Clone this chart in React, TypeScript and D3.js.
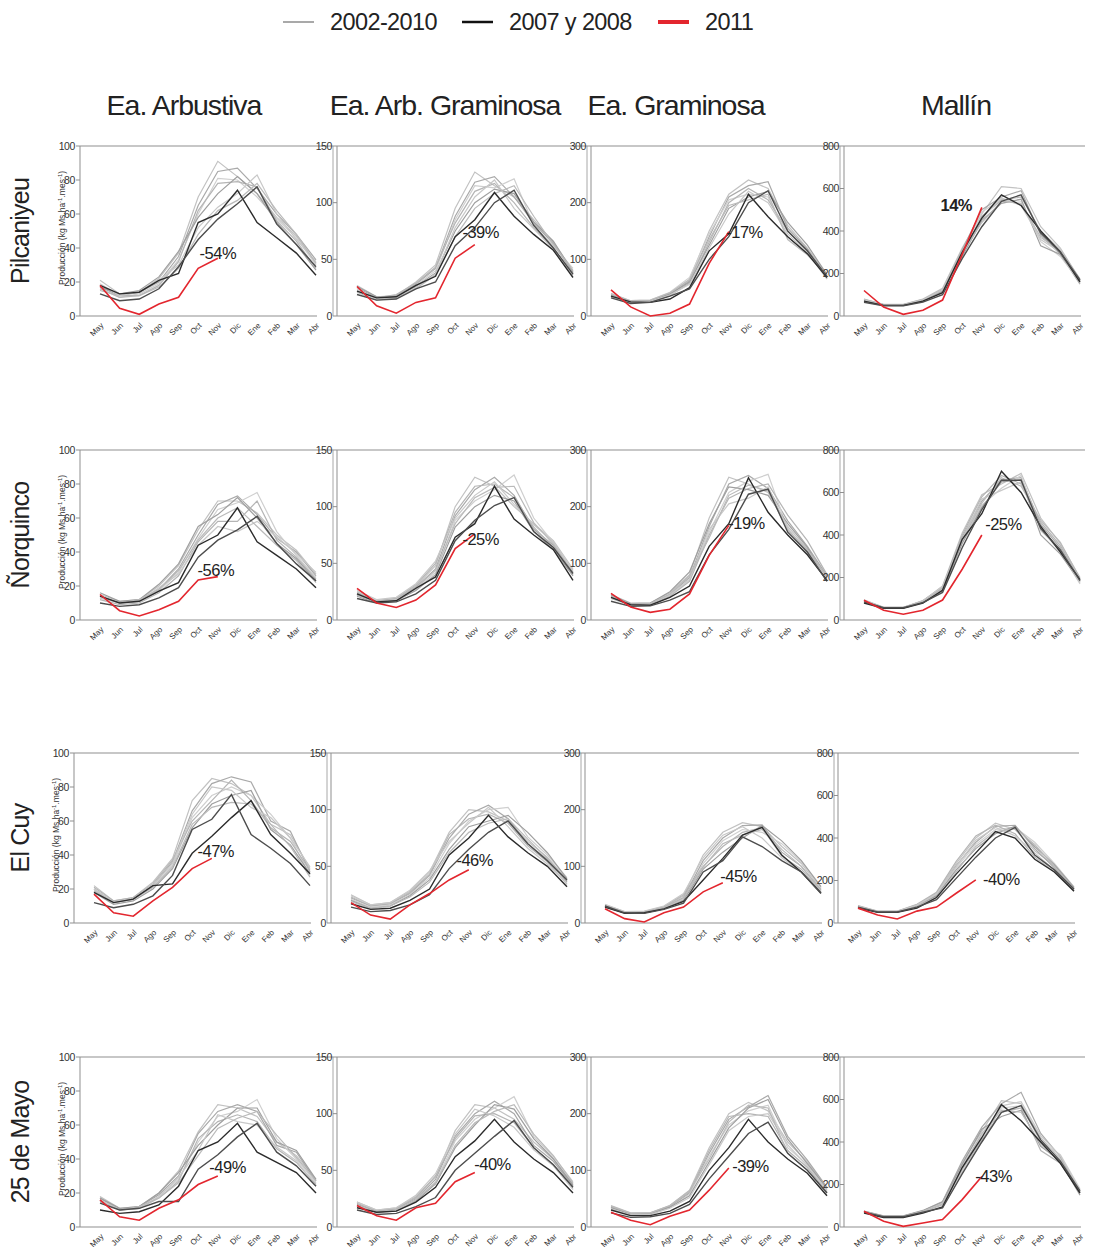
import * as d3 from "d3";

const months = ["May", "Jun", "Jul", "Ago", "Sep", "Oct", "Nov", "Dic", "Ene", "Feb", "Mar", "Abr"];
const sites = ["Pilcaniyeu", "Ñorquinco", "El Cuy", "25 de Mayo"];
const vegTypes = ["Ea. Arbustiva", "Ea. Arb. Graminosa", "Ea. Graminosa", "Mallín"];
const yMax = [100, 150, 300, 800];
const yStep = [20, 50, 100, 200];
const legendLabels = ["2002-2010", "2007 y 2008", "2011"];

// Pilcaniyeu
const pilArbGray = [
  [21, 13, 14, 22, 37, 70, 91, 82, 72, 58, 47, 31],
  [17, 12, 14, 20, 35, 65, 85, 87, 75, 60, 48, 33],
  [16, 11, 13, 19, 33, 60, 81, 80, 70, 57, 46, 30],
  [15, 12, 12, 18, 32, 62, 78, 79, 76, 56, 44, 28],
  [17, 13, 15, 23, 38, 58, 72, 82, 72, 55, 42, 27],
  [19, 12, 14, 21, 30, 52, 64, 72, 83, 60, 45, 32],
  [16, 11, 12, 17, 28, 48, 62, 68, 78, 62, 48, 31],
];
const pilArbDark = [
  [18, 13, 14, 21, 25, 55, 60, 74, 55, 46, 37, 24],
  [13, 9, 10, 16, 29, 45, 57, 66, 76, 54, 42, 29],
];
const pilArbRed = [18, 4.5, 1, 7, 11, 28, 34];

const pilArbGrGray = [
  [27, 17, 18, 30, 45, 95, 127, 115, 105, 85, 65, 40],
  [25, 16, 18, 28, 42, 88, 118, 123, 105, 82, 64, 38],
  [24, 15, 17, 27, 40, 85, 115, 113, 121, 80, 62, 42],
  [22, 16, 19, 29, 43, 82, 110, 117, 100, 78, 60, 36],
  [26, 17, 17, 26, 38, 75, 100, 112, 108, 83, 66, 39],
  [23, 15, 16, 25, 37, 78, 105, 120, 95, 77, 59, 37],
  [21, 14, 16, 24, 36, 70, 95, 108, 115, 88, 63, 40],
];
const pilArbGrDark = [
  [22, 16, 17, 27, 35, 70, 85, 109, 88, 72, 58, 34],
  [19, 14, 15, 24, 30, 62, 78, 100, 111, 80, 60, 37],
];
const pilArbGrRed = [26, 9, 2.5, 12, 16, 51, 63];

const pilGramGray = [
  [38, 26, 27, 40, 65, 150, 215, 240, 225, 160, 120, 72],
  [36, 25, 26, 38, 62, 140, 210, 230, 237, 155, 118, 66],
  [40, 27, 28, 42, 68, 145, 205, 215, 210, 140, 110, 70],
  [34, 24, 25, 36, 58, 130, 200, 225, 205, 150, 115, 68],
  [37, 26, 27, 39, 60, 125, 190, 210, 220, 165, 125, 73],
  [35, 25, 26, 37, 56, 120, 180, 220, 200, 145, 112, 65],
  [39, 27, 28, 41, 64, 135, 195, 205, 215, 135, 108, 71],
];
const pilGramDark = [
  [35, 25, 24, 30, 50, 115, 145, 215, 175, 140, 110, 68],
  [32, 22, 24, 35, 48, 100, 140, 200, 221, 150, 115, 70],
];
const pilGramRed = [46, 16, 0, 5, 21, 93, 149];

const pilMalGray = [
  [80, 55, 55, 80, 130, 320, 480, 609, 600, 420, 320, 170],
  [75, 52, 52, 75, 120, 310, 500, 560, 590, 380, 290, 150],
  [70, 50, 50, 70, 115, 300, 490, 550, 540, 350, 280, 160],
  [78, 54, 54, 78, 125, 290, 470, 545, 560, 400, 310, 175],
  [72, 51, 51, 72, 118, 280, 450, 530, 550, 330, 290, 165],
  [76, 53, 53, 76, 122, 305, 460, 555, 520, 360, 300, 155],
  [68, 49, 49, 68, 112, 295, 440, 540, 530, 370, 305, 168],
];
const pilMalDark = [
  [70, 50, 50, 70, 110, 300, 460, 570, 520, 400, 300, 160],
  [65, 48, 48, 65, 100, 270, 420, 540, 570, 390, 300, 170],
];
const pilMalRed = [120, 42, 8, 27, 75, 290, 511];

// Ñorquinco
const norArbGray = [
  [15, 11, 12, 20, 32, 53, 70, 70, 63, 50, 41, 27],
  [14, 10, 11, 18, 30, 50, 68, 73, 62, 48, 40, 26],
  [13, 10, 11, 17, 28, 48, 65, 69, 75, 52, 38, 25],
  [12, 9, 10, 16, 26, 46, 58, 58, 70, 47, 37, 24],
  [16, 11, 12, 21, 33, 55, 62, 72, 60, 45, 36, 23],
  [13, 10, 11, 19, 27, 44, 55, 52, 58, 49, 39, 28],
  [14, 10, 12, 18, 29, 47, 60, 66, 55, 44, 35, 22],
];
const norArbDark = [
  [14, 10, 11, 17, 22, 44, 50, 66, 46, 38, 30, 19],
  [10, 8, 9, 13, 19, 37, 47, 53, 61, 45, 33, 23],
];
const norArbRed = [15, 5.5, 2.4, 6, 11, 23.5, 25.5];

const norArbGrGray = [
  [25, 17, 19, 30, 48, 100, 126, 118, 100, 85, 70, 45],
  [24, 16, 18, 29, 45, 92, 115, 126, 110, 80, 66, 42],
  [22, 16, 18, 27, 42, 88, 105, 115, 128, 90, 68, 44],
  [23, 17, 19, 31, 50, 95, 118, 120, 108, 82, 64, 40],
  [21, 15, 17, 26, 40, 82, 100, 110, 105, 78, 62, 39],
  [26, 18, 20, 32, 52, 90, 110, 122, 102, 84, 69, 43],
  [22, 16, 17, 28, 44, 85, 108, 117, 118, 86, 67, 41],
];
const norArbGrDark = [
  [23, 16, 17, 28, 38, 73, 85, 118, 89, 75, 62, 35],
  [19, 15, 16, 23, 35, 70, 88, 101, 108, 78, 64, 41],
];
const norArbGrRed = [28, 15, 11, 17.6, 31, 63, 76];

const norGramGray = [
  [45, 30, 30, 48, 80, 180, 252, 240, 225, 165, 125, 75],
  [42, 28, 29, 45, 75, 165, 240, 255, 232, 175, 130, 78],
  [40, 27, 28, 43, 70, 155, 225, 245, 257, 160, 122, 72],
  [38, 26, 27, 42, 68, 150, 215, 232, 240, 185, 140, 80],
  [44, 29, 30, 50, 85, 170, 235, 230, 220, 170, 128, 70],
  [39, 27, 28, 44, 72, 160, 205, 215, 235, 162, 118, 74],
  [41, 28, 29, 46, 78, 145, 220, 238, 228, 158, 124, 76],
];
const norGramDark = [
  [40, 27, 26, 40, 60, 130, 170, 251, 190, 150, 115, 70],
  [33, 24, 25, 35, 50, 115, 160, 222, 231, 155, 120, 68],
];
const norGramRed = [47, 23, 13.5, 19, 46, 114, 167];

const norMalGray = [
  [95, 60, 60, 90, 160, 410, 590, 640, 690, 480, 360, 200],
  [90, 58, 58, 88, 150, 390, 560, 660, 670, 450, 340, 185],
  [88, 57, 57, 86, 145, 370, 540, 620, 680, 430, 320, 170],
  [92, 59, 59, 92, 155, 400, 580, 680, 640, 460, 350, 190],
  [86, 56, 56, 84, 140, 360, 530, 650, 660, 400, 310, 180],
  [94, 60, 60, 90, 158, 380, 570, 610, 650, 420, 330, 175],
  [89, 58, 58, 87, 148, 375, 550, 670, 630, 470, 365, 195],
];
const norMalDark = [
  [80, 55, 55, 80, 140, 380, 500, 700, 600, 440, 320, 190],
  [85, 58, 58, 82, 130, 340, 520, 658, 658, 430, 330, 185],
];
const norMalRed = [93, 46, 27, 46, 94, 239, 400];

// El Cuy
const cuyArbGray = [
  [22, 13, 15, 24, 38, 72, 85, 82, 75, 58, 52, 32],
  [20, 12, 14, 22, 36, 66, 82, 86, 83, 60, 54, 30],
  [19, 12, 14, 21, 34, 62, 75, 80, 75, 64, 50, 28],
  [21, 13, 15, 23, 37, 60, 72, 84, 72, 56, 48, 31],
  [18, 11, 13, 20, 32, 56, 70, 75, 78, 55, 46, 29],
  [20, 12, 14, 22, 35, 64, 80, 78, 68, 62, 50, 33],
  [19, 12, 14, 21, 33, 58, 68, 71, 70, 58, 45, 27],
];
const cuyArbDark = [
  [18, 12, 14, 22, 23, 41, 51, 62, 72, 52, 41, 29],
  [12, 9, 11, 16, 28, 55, 61, 75.5, 52, 44, 35, 22],
];
const cuyArbRed = [17, 6, 4, 13, 21, 32, 38];

const cuyArbGrGray = [
  [25, 16, 18, 28, 45, 80, 100, 98, 90, 72, 58, 38],
  [22, 15, 17, 26, 42, 75, 96, 104, 92, 70, 56, 36],
  [21, 14, 16, 25, 40, 70, 90, 100, 102, 76, 60, 40],
  [23, 15, 17, 27, 43, 78, 92, 96, 88, 68, 54, 34],
  [20, 13, 15, 24, 38, 65, 85, 90, 95, 80, 62, 39],
  [24, 16, 18, 29, 46, 72, 88, 102, 85, 66, 52, 35],
  [19, 13, 15, 23, 36, 62, 80, 88, 92, 74, 57, 37],
];
const cuyArbGrDark = [
  [17, 12, 13, 20, 30, 60, 75, 95, 76, 62, 50, 32],
  [14, 10, 11, 16, 25, 48, 65, 80, 90, 70, 55, 38],
];
const cuyArbGrRed = [18, 7, 3.5, 16, 26, 38, 47];

const cuyGramGray = [
  [32, 20, 20, 28, 48, 120, 160, 177, 170, 135, 105, 60],
  [30, 19, 19, 27, 45, 110, 150, 172, 173, 125, 100, 58],
  [29, 18, 18, 26, 42, 105, 145, 165, 160, 140, 108, 62],
  [31, 19, 20, 29, 50, 100, 135, 160, 168, 118, 95, 55],
  [28, 18, 18, 25, 40, 95, 125, 150, 172, 145, 110, 64],
  [33, 20, 21, 30, 52, 115, 155, 170, 150, 115, 90, 54],
  [30, 19, 19, 27, 44, 98, 140, 155, 165, 130, 100, 57],
];
const cuyGramDark = [
  [28, 17, 18, 25, 38, 76, 114, 155, 169, 120, 90, 53],
  [30, 18, 17, 24, 35, 90, 110, 152, 135, 110, 90, 52],
];
const cuyGramRed = [25, 7.7, 1.8, 18, 28, 55, 71];

const cuyMalGray = [
  [80, 55, 55, 85, 140, 280, 400, 470, 440, 340, 270, 165],
  [78, 54, 54, 82, 130, 270, 380, 455, 460, 350, 260, 160],
  [75, 52, 52, 80, 125, 260, 370, 440, 450, 380, 280, 170],
  [82, 56, 56, 88, 145, 290, 410, 460, 420, 310, 240, 155],
  [76, 53, 53, 78, 128, 250, 350, 420, 455, 360, 275, 168],
  [79, 55, 55, 84, 135, 265, 390, 450, 410, 330, 250, 150],
  [74, 51, 51, 77, 122, 240, 360, 430, 445, 370, 265, 162],
];
const cuyMalDark = [
  [70, 50, 50, 70, 120, 230, 330, 430, 400, 300, 240, 150],
  [75, 52, 52, 75, 110, 210, 310, 400, 450, 320, 250, 160],
];
const cuyMalRed = [70, 38, 19, 56, 75, 140, 203];

// 25 de Mayo
const mayArbGray = [
  [18, 11, 12, 20, 33, 56, 72, 70, 65, 50, 42, 28],
  [17, 10, 12, 19, 30, 55, 68, 72, 68, 48, 44, 27],
  [16, 10, 11, 18, 28, 50, 65, 68, 75, 52, 40, 26],
  [15, 10, 11, 17, 27, 52, 62, 66, 62, 46, 38, 25],
  [17, 11, 12, 20, 32, 48, 60, 70, 70, 50, 45, 28],
  [16, 10, 11, 18, 29, 45, 66, 62, 60, 47, 39, 24],
  [15, 10, 12, 17, 26, 42, 58, 64, 68, 54, 41, 27],
];
const mayArbDark = [
  [10, 8, 9, 13, 24, 45, 50, 61, 44, 38, 32, 20],
  [14, 10, 11, 15, 15, 34, 42.5, 53, 61, 44, 36, 24],
];
const mayArbRed = [16, 6, 4, 11, 16, 25, 30];

const mayArbGrGray = [
  [22, 15, 17, 27, 44, 85, 108, 105, 95, 75, 60, 38],
  [20, 14, 16, 25, 42, 80, 100, 111, 100, 72, 58, 36],
  [19, 13, 15, 24, 40, 76, 95, 105, 115, 80, 62, 40],
  [21, 14, 16, 26, 45, 78, 98, 100, 92, 70, 55, 34],
  [18, 13, 14, 23, 38, 70, 90, 108, 104, 78, 60, 37],
  [22, 15, 17, 28, 47, 82, 104, 98, 88, 68, 54, 33],
  [19, 13, 15, 24, 39, 72, 92, 102, 108, 82, 63, 39],
];
const mayArbGrDark = [
  [17, 13, 14, 22, 35, 62, 76, 95, 75, 60, 48, 30],
  [15, 11, 12, 18, 26, 50, 65, 80, 94, 70, 55, 35],
];
const mayArbGrRed = [19, 10, 6, 17, 21, 40, 48];

const mayGramGray = [
  [38, 25, 25, 38, 65, 140, 200, 220, 205, 150, 115, 68],
  [35, 23, 24, 36, 60, 130, 190, 212, 232, 160, 118, 70],
  [33, 22, 23, 34, 58, 125, 180, 205, 215, 140, 110, 65],
  [36, 24, 24, 37, 62, 135, 195, 200, 195, 135, 105, 62],
  [34, 23, 23, 35, 55, 115, 175, 210, 225, 155, 112, 68],
  [32, 21, 22, 33, 52, 110, 170, 195, 200, 145, 108, 64],
  [37, 24, 25, 38, 64, 120, 185, 215, 210, 130, 100, 60],
];
const mayGramDark = [
  [30, 20, 20, 28, 45, 100, 140, 190, 150, 120, 95, 55],
  [25, 17, 18, 24, 40, 85, 125, 165, 185, 130, 100, 60],
];
const mayGramRed = [26, 12, 4, 19, 30, 65, 104];

const mayMalGray = [
  [72, 50, 50, 75, 115, 300, 450, 595, 580, 420, 320, 175],
  [75, 52, 52, 78, 120, 310, 470, 580, 634, 440, 330, 165],
  [70, 48, 48, 72, 110, 290, 430, 560, 570, 400, 340, 180],
  [68, 47, 47, 70, 105, 270, 410, 540, 560, 360, 300, 160],
  [74, 51, 51, 76, 118, 295, 460, 520, 550, 380, 310, 150],
  [71, 49, 49, 73, 112, 260, 400, 570, 590, 430, 335, 172],
  [73, 50, 50, 74, 108, 280, 440, 550, 540, 390, 305, 168],
];
const mayMalDark = [
  [65, 45, 45, 65, 95, 280, 420, 576, 500, 400, 300, 160],
  [70, 48, 48, 70, 90, 250, 400, 540, 571, 410, 310, 170],
];
const mayMalRed = [74, 27, 3, 19, 35, 129, 238];

// change of 2011 vs. mean, per panel (row by row)
const changeLabels = [
  "-54%", "-39%", "-17%", "14%",
  "-56%", "-25%", "-19%", "-25%",
  "-47%", "-46%", "-45%", "-40%",
  "-49%", "-40%", "-39%", "-43%",
];
// label anchor: month index and value in the panel's units
const labelMonthIdx = [6.0, 6.3, 6.8, 4.7, 5.9, 6.3, 6.9, 7.1, 6.2, 6.3, 6.8, 7.3, 6.5, 6.9, 7.1, 6.6];
const labelValue = [37, 74, 148, 522, 29, 71, 171, 452, 42, 55, 83, 207, 35, 55, 108, 240];

const grid = [
  [[pilArbGray, pilArbDark, pilArbRed], [pilArbGrGray, pilArbGrDark, pilArbGrRed], [pilGramGray, pilGramDark, pilGramRed], [pilMalGray, pilMalDark, pilMalRed]],
  [[norArbGray, norArbDark, norArbRed], [norArbGrGray, norArbGrDark, norArbGrRed], [norGramGray, norGramDark, norGramRed], [norMalGray, norMalDark, norMalRed]],
  [[cuyArbGray, cuyArbDark, cuyArbRed], [cuyArbGrGray, cuyArbGrDark, cuyArbGrRed], [cuyGramGray, cuyGramDark, cuyGramRed], [cuyMalGray, cuyMalDark, cuyMalRed]],
  [[mayArbGray, mayArbDark, mayArbRed], [mayArbGrGray, mayArbGrDark, mayArbGrRed], [mayGramGray, mayGramDark, mayGramRed], [mayMalGray, mayMalDark, mayMalRed]],
];

const W = 1093;
const H = 1247;
const FONT = "'Liberation Sans', Arial, sans-serif";
const colAxisX = [80, 337, 591, 844];
const rowTop = [146, 450, 753, 1057];
const rowShift = [0, 0, -6, 0];
const plotH = 170;
const grayColors = ["#c2c2c2", "#a9a9a9", "#cfcfcf", "#b5b5b5", "#9f9f9f", "#c8c8c8", "#bababa"];
const darkColors = ["#2b2b2b", "#4d4d4d"];
const RED = "#e3262e";
const AXIS = "#8f8f8f";

function Panel({ r, c }: { r: number; c: number }) {
  const [gray, dark, red] = grid[r][c] as [number[][], number[][], number[]];
  const left = colAxisX[c] + rowShift[r];
  const top = rowTop[r];
  const bottom = top + plotH;
  const right = c < 3 ? colAxisX[c + 1] + rowShift[r] - 4 : left + 241;
  const x = d3.scalePoint<string>().domain(months).range([left + 20, left + 236]);
  const y = d3.scaleLinear().domain([0, yMax[c]]).range([bottom, top]);
  const line = d3.line<number>().x((_, i) => x(months[i])!).y((v) => y(v));
  const ticks = d3.range(0, yMax[c] + 1, yStep[c]);
  const k = r * 4 + c;
  const step = x.step();
  const lx = x(months[0])! + labelMonthIdx[k] * step;

  return (
    <g>
      <line x1={left} x2={right} y1={top} y2={top} stroke={AXIS} strokeWidth={1} />
      {c < 3 && <line x1={right} x2={right} y1={top} y2={bottom} stroke="#a8a8a8" strokeWidth={1} />}
      <line x1={left} x2={left} y1={top} y2={bottom} stroke={AXIS} strokeWidth={1} />
      <line x1={left} x2={x("Abr")! + 1} y1={bottom} y2={bottom} stroke={AXIS} strokeWidth={1} />
      {ticks.map((t) => (
        <g key={t}>
          <line x1={left - 4} x2={left} y1={y(t)} y2={y(t)} stroke={AXIS} />
          <text x={left - 5} y={y(t)} dy="0.35em" textAnchor="end" fontSize={10.5} fill="#333" letterSpacing={-0.4}>
            {t}
          </text>
        </g>
      ))}
      {months.map((m) => (
        <text
          key={m}
          transform={`translate(${x(m)! + 4},${bottom + 10}) rotate(-45)`}
          textAnchor="end"
          fontSize={8}
          fill="#333"
        >
          {m}
        </text>
      ))}
      {gray.map((s, i) => (
        <path key={"g" + i} d={line(s)!} fill="none" stroke={grayColors[i % grayColors.length]} strokeWidth={1.2} />
      ))}
      {dark.map((s, i) => (
        <path key={"d" + i} d={line(s)!} fill="none" stroke={darkColors[i]} strokeWidth={1.4} />
      ))}
      <path d={line(red)!} fill="none" stroke={RED} strokeWidth={1.6} />
      <text
        x={lx}
        y={y(labelValue[k])}
        dy="0.35em"
        textAnchor="middle"
        fontSize={16.5}
        fontWeight={changeLabels[k].startsWith("-") ? "normal" : "bold"}
        fill="#222"
        letterSpacing={-0.5}
      >
        {changeLabels[k]}
      </text>
      {c === 0 && (
        <text
          transform={`translate(${left - 15},${top + 82}) rotate(-90)`}
          textAnchor="middle"
          fontSize={8.5}
          fill="#333"
        >
          Producción (kg Ms.ha
          <tspan dy={-3} fontSize={6}>-1</tspan>
          <tspan dy={3}>.mes</tspan>
          <tspan dy={-3} fontSize={6}>-1</tspan>
          <tspan dy={3}>)</tspan>
        </text>
      )}
    </g>
  );
}

export default function App() {
  const headerX = [184, 445, 676, 956];
  const legendX = [283, 462, 658];
  const legendColors = ["#a9a9a9", "#111", RED];
  const legendWidths = [2, 2.5, 4];
  return (
    <svg width={W} height={H} style={{ position: "absolute", left: 0, top: 0, background: "#fff" }} fontFamily={FONT}>
      <rect width={W} height={H} fill="#fff" />
      {legendLabels.map((l, i) => (
        <g key={l}>
          <line x1={legendX[i]} x2={legendX[i] + 31} y1={22} y2={22} stroke={legendColors[i]} strokeWidth={legendWidths[i]} />
          <text x={legendX[i] + 47} y={22} dy="0.35em" fontSize={23.5} fill="#222" letterSpacing={-0.6}>
            {l}
          </text>
        </g>
      ))}
      {vegTypes.map((v, i) => (
        <text key={v} x={headerX[i]} y={105} dy="0.35em" textAnchor="middle" fontSize={28.5} fill="#222" letterSpacing={-1}>
          {v}
        </text>
      ))}
      {sites.map((s, r) => (
        <text
          key={s}
          transform={`translate(${29},${rowTop[r] + 85}) rotate(-90)`}
          textAnchor="middle"
          fontSize={25}
          fill="#222"
          letterSpacing={-0.8}
        >
          {s}
        </text>
      ))}
      {sites.map((_, r) => vegTypes.map((__, c) => <Panel key={r + "-" + c} r={r} c={c} />))}
    </svg>
  );
}
